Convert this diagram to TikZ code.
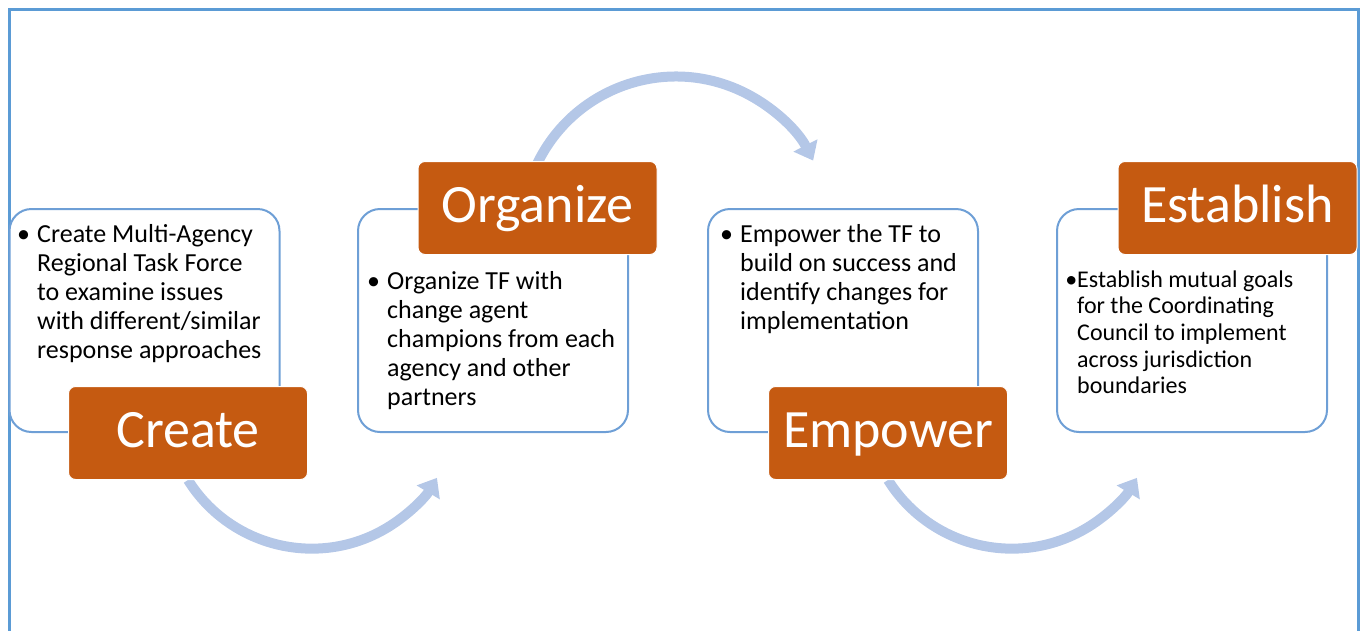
\documentclass[tikz,border=0pt]{standalone}
\usepackage{fontspec}
\setmainfont{Carlito}
\usetikzlibrary{arrows.meta}
\definecolor{frameblue}{HTML}{5B9BD5}
\definecolor{cardblue}{HTML}{6E9FD6}
\definecolor{steporange}{HTML}{C55A11}
\definecolor{flowblue}{HTML}{B4C7E7}
\newcommand{\bul}{\makebox[20pt][l]{\textbullet}}
\begin{document}
\begin{tikzpicture}[x=1pt, y=-1pt,
  card/.style = {draw=cardblue, line width=2pt, fill=white, rounded corners=22pt, minimum width=270pt, minimum height=223pt, inner sep=0pt},
  stepbox/.style = {draw=white, line width=1pt, fill=steporange, rounded corners=7pt, minimum width=239pt, minimum height=93pt, inner sep=0pt, text height=38pt, text depth=10pt, text=white, font=\fontsize{54}{58}\selectfont},
  body/.style = {anchor=base west, inner sep=0pt, font=\fontsize{26}{29}\selectfont},
  flow/.style = {draw=flowblue, line width=10pt, -{Triangle[width=26pt,length=17pt]}}]
\useasboundingbox (0,0) rectangle (1361,630);
\clip (0,0) rectangle (1361,630);
\draw[frameblue, line width=3pt] (9.5,9.5) rectangle (1358.5,660);

% white cards
\node[card] (box1) at (144.5,320.5) {};
\node[card] (box2) at (493,320.5) {};
\node[card] (box3) at (843,320.5) {};
\node[card] (box4) at (1192,320.5) {};

% card texts
\node[body] (txt1) at (17,242) {\begin{tabular}[t]{@{}l@{}}
  \bul Create Multi-Agency\\ \hspace{20pt}Regional Task Force\\ \hspace{20pt}to examine issues\\ \hspace{20pt}with different/similar\\ \hspace{20pt}response approaches\end{tabular}};
\node[body] (txt2) at (367,289) {\begin{tabular}[t]{@{}l@{}}
  \bul Organize TF with\\ \hspace{20pt}change agent\\ \hspace{20pt}champions from each\\ \hspace{20pt}agency and other\\ \hspace{20pt}partners\end{tabular}};
\node[body] (txt3) at (720,242) {\begin{tabular}[t]{@{}l@{}}
  \bul Empower the TF to\\ \hspace{20pt}build on success and\\ \hspace{20pt}identify changes for\\ \hspace{20pt}implementation\end{tabular}};
\node[body, font=\fontsize{24}{26.7}\selectfont] (txt4) at (1077,287) {\begin{tabular}[t]{@{}l@{}}
  \llap{\textbullet}Establish mutual goals\\ for the Coordinating\\ Council to implement\\ across jurisdiction\\ boundaries\end{tabular}};

% curved arrows
\draw[flow] (188,480) arc[start angle=148, end angle=31, radius=146];
\draw[flow] (537.5,163) arc[start angle=206, end angle=333, radius=154];
\draw[flow] (888,480) arc[start angle=148, end angle=31, radius=146];

% step labels
\node[stepbox] (create) at ([xshift=43.5pt]box1.south) {Create};
\node[stepbox] (organize) at ([xshift=44.5pt]box2.north) {Organize};
\node[stepbox] (empower) at ([xshift=45pt]box3.south) {Empower};
\node[stepbox] (establish) at ([xshift=45.5pt]box4.north) {Establish};
\end{tikzpicture}
\end{document}
